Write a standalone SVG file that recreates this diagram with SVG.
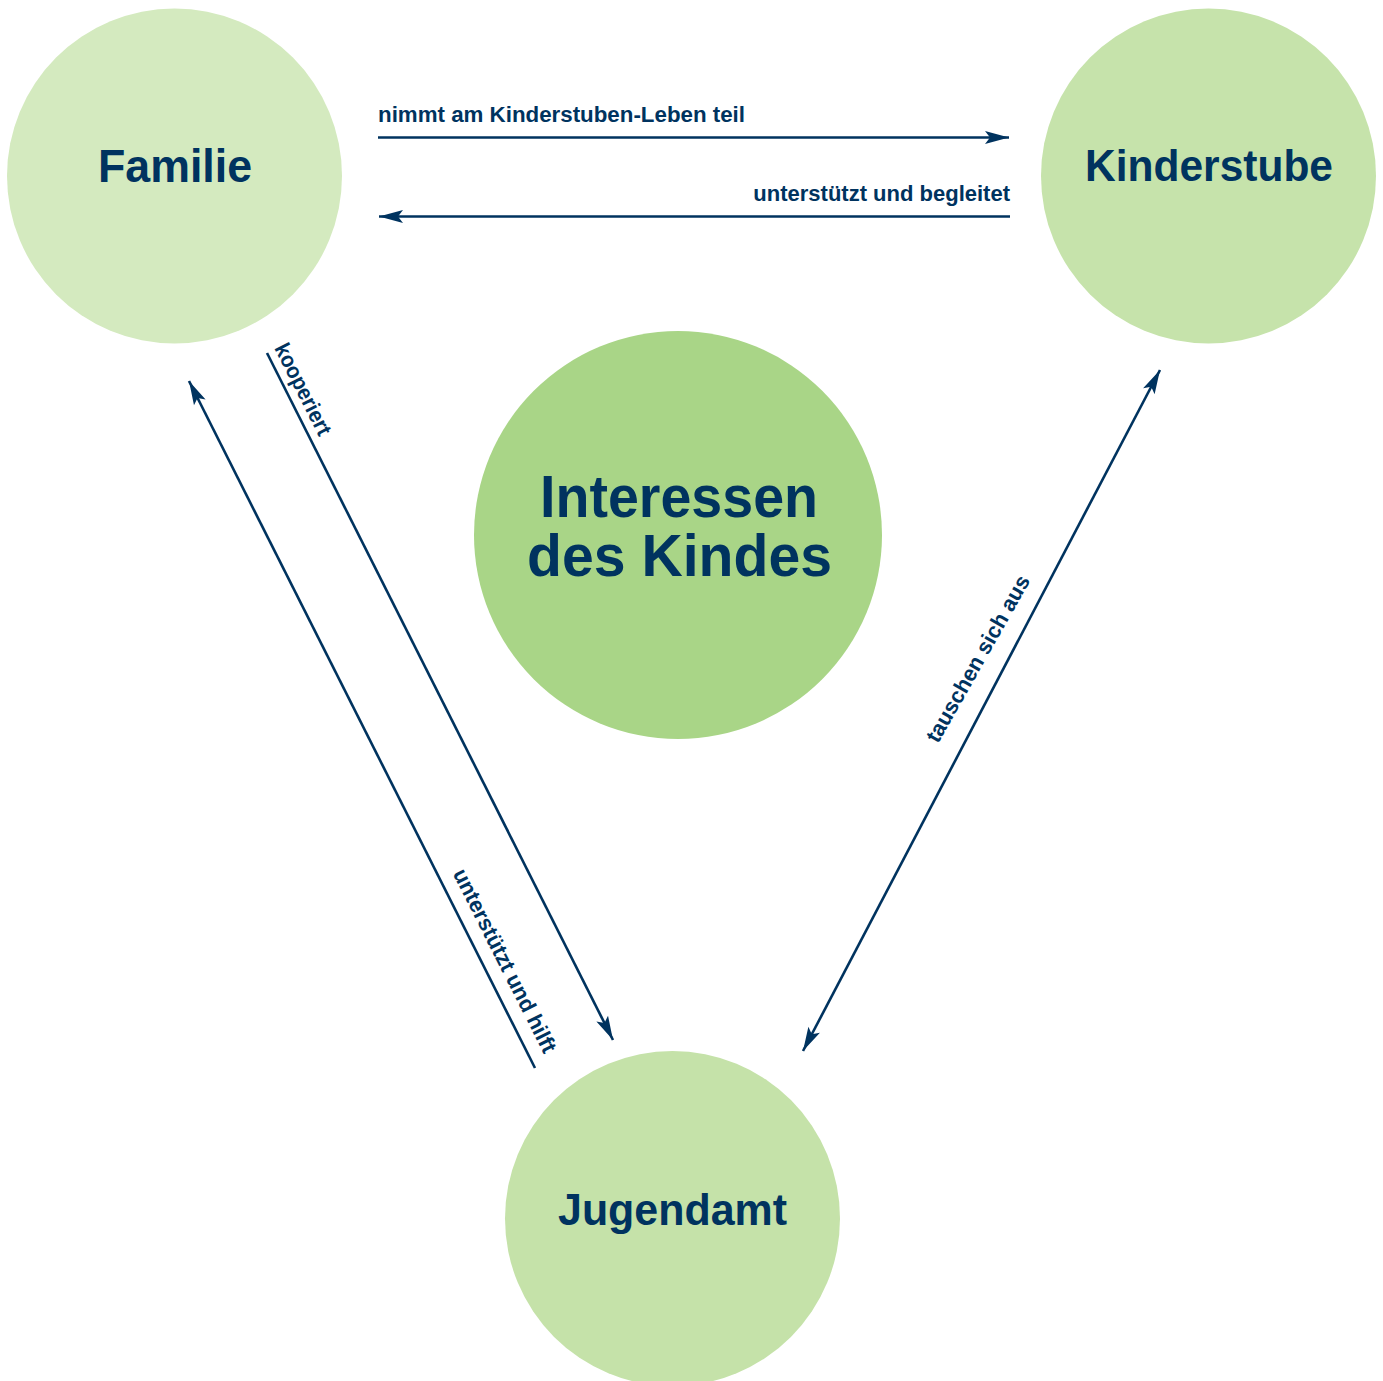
<svg xmlns="http://www.w3.org/2000/svg" width="1383" height="1381" viewBox="0 0 1383 1381">
<defs>
<style>
.node-text{font-family:"Liberation Sans",Arial,sans-serif;font-weight:bold;fill:#00335f;text-anchor:middle}
.lbl{font-family:"Liberation Sans",Arial,sans-serif;font-weight:bold;font-size:22px;fill:#00335f}
.conn{stroke:#00335f;stroke-width:2.6;fill:none}
</style>
<marker id="ah" markerUnits="userSpaceOnUse" viewBox="-25 -8 27 16" refX="0" refY="0" markerWidth="27" markerHeight="16" orient="auto-start-reverse">
<path d="M0,0 L-24,-6.5 L-19,0 L-24,6.5 Z" fill="#00335f"/>
</marker>
</defs>
<rect width="1383" height="1381" fill="#ffffff"/>
<g id="familie">
<circle cx="174.5" cy="176" r="167.5" fill="#d4eabf"/>
<text class="node-text" x="175" y="182" font-size="46" textLength="154" lengthAdjust="spacingAndGlyphs">Familie</text>
</g>
<g id="kinderstube">
<circle cx="1208.5" cy="176" r="167.5" fill="#c6e3ab"/>
<text class="node-text" x="1209" y="181" font-size="45" textLength="248" lengthAdjust="spacingAndGlyphs">Kinderstube</text>
</g>
<g id="interessen">
<circle cx="678" cy="535" r="204" fill="#a9d587"/>
<text class="node-text" x="679" y="517" font-size="59" textLength="278" lengthAdjust="spacingAndGlyphs">Interessen</text>
<text class="node-text" x="679.5" y="576" font-size="59" textLength="305" lengthAdjust="spacingAndGlyphs">des Kindes</text>
</g>
<g id="jugendamt">
<circle cx="672.5" cy="1218.5" r="167.5" fill="#c5e2a9"/>
<text class="node-text" x="672.5" y="1225" font-size="45" textLength="229" lengthAdjust="spacingAndGlyphs">Jugendamt</text>
</g>
<g id="connectors">
<line class="conn" x1="378" y1="137.5" x2="1009" y2="137.5" marker-end="url(#ah)"/>
<text class="lbl" x="378" y="121.5" textLength="367" lengthAdjust="spacingAndGlyphs">nimmt am Kinderstuben-Leben teil</text>
<line class="conn" x1="1010" y1="216.5" x2="379" y2="216.5" marker-end="url(#ah)"/>
<text class="lbl" x="1010" y="200.5" text-anchor="end">unterstützt und begleitet</text>
<line class="conn" x1="535" y1="1068" x2="189" y2="381" marker-end="url(#ah)"/>
<text class="lbl" transform="translate(452.5,873.5) rotate(63.2)" textLength="203" lengthAdjust="spacingAndGlyphs">unterstützt und hilft</text>
<line class="conn" x1="267" y1="353" x2="613" y2="1040" marker-end="url(#ah)"/>
<text class="lbl" transform="translate(274,348) rotate(63.2)" textLength="100" lengthAdjust="spacingAndGlyphs">kooperiert</text>
<line class="conn" x1="803" y1="1051" x2="1160" y2="370" marker-start="url(#ah)" marker-end="url(#ah)"/>
<text class="lbl" transform="translate(938,744) rotate(-60.5)" textLength="188" lengthAdjust="spacingAndGlyphs">tauschen sich aus</text>
</g>
</svg>
